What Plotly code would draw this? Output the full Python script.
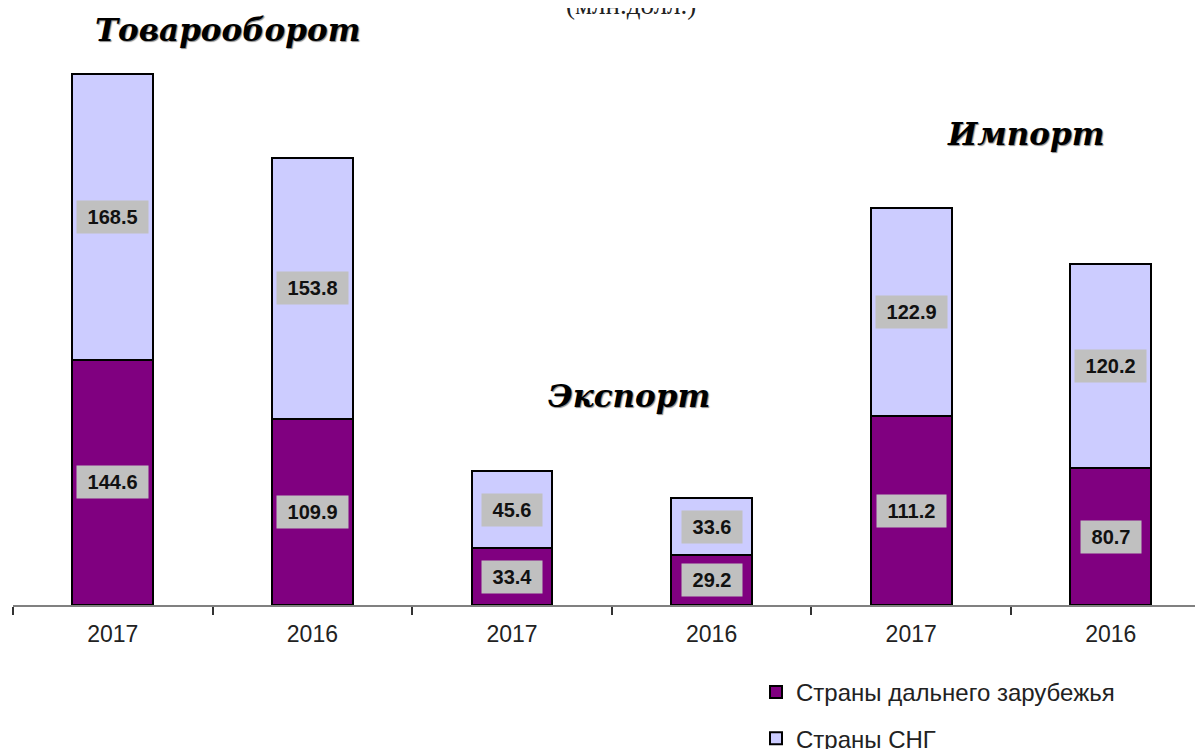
import plotly.graph_objects as go

tick_labels = ["2017", "2016", "2017", "2016", "2017", "2016"]
far_abroad = [144.6, 109.9, 33.4, 29.2, 111.2, 80.7]
cis = [168.5, 153.8, 45.6, 33.6, 122.9, 120.2]
series_names = ["Страны дальнего зарубежья", "Страны СНГ"]
group_titles = ["Товарооборот", "Экспорт", "Импорт"]
unit_text = "(млн.долл.)"

positions = list(range(len(tick_labels)))
boundaries = [p - 0.5 for p in positions] + [positions[-1] + 0.5]

OFF = 8  # page body margin in the browser
W, H = 1203, 757
ML, MR = 13 - OFF, 0
MT = 62 - OFF
MB = H - (605 - OFF)
PW = W - ML - MR
PH = H - MT - MB
CAT = 199.6
UNIT = 1.696


def px_x(px):
    return (px - OFF - ML) / PW


def px_y(py):
    return (H - MB - (py - OFF)) / PH


fig = go.Figure()
fig.add_trace(go.Bar(
    x=positions, y=far_abroad, name=series_names[0], legendgroup="a",
    marker=dict(color="#800080", line=dict(color="#000000", width=2)),
    width=0.405,
))
fig.add_trace(go.Bar(
    x=positions, y=cis, name=series_names[1], legendgroup="b",
    marker=dict(color="#CCCCFF", line=dict(color="#000000", width=2)),
    width=0.405,
))

annotations = []
for i, p in enumerate(positions):
    for val, base in ((far_abroad[i], 0), (cis[i], far_abroad[i])):
        annotations.append(dict(
            x=p, y=base + val / 2, xref="x", yref="y",
            text=f" {val:.1f} ", showarrow=False,
            bgcolor="#C0C0C0", borderpad=5,
            font=dict(family="Arial, Liberation Sans", size=20, color="#111111", weight="bold"),
        ))

title_font = dict(family="DejaVu Serif", size=31, color="#000000", style="italic", weight="bold",
                  shadow="1px 1px 1px #888888")
for txt, (px, py) in zip(group_titles, [(227, 30), (629, 396), (1025, 134)]):
    annotations.append(dict(
        x=px_x(px), y=px_y(py), xref="paper", yref="paper", text=txt,
        showarrow=False, xanchor="center", yanchor="middle", font=title_font,
    ))
annotations.append(dict(
    x=px_x(631), y=px_y(5), xref="paper", yref="paper", text=unit_text,
    showarrow=False, xanchor="center", yanchor="middle",
    font=dict(family="Liberation Serif, Times New Roman", size=27, color="#222222"),
))

fig.update_layout(
    width=W, height=H,
    margin=dict(l=ML, r=MR, t=MT, b=MB, autoexpand=False),
    barmode="stack",
    plot_bgcolor="white", paper_bgcolor="white",
    showlegend=True,
    legend=dict(
        x=px_x(756), y=px_y(670), xanchor="left", yanchor="top",
        traceorder="grouped", tracegroupgap=12,
        font=dict(family="Arial, Liberation Sans", size=24, color="#222222"),
        bgcolor="rgba(0,0,0,0)",
    ),
    xaxis=dict(
        range=[-0.5, -0.5 + PW / CAT],
        tickmode="array", tickvals=positions, ticktext=tick_labels,
        ticks="outside", ticklen=7, tickcolor="rgba(0,0,0,0)",
        ticklabelstandoff=0,
        minor=dict(tickmode="array", tickvals=boundaries, ticks="outside", ticklen=8,
                   tickcolor="#333333", tickwidth=2, showgrid=False),
        showline=True, linecolor="#808080", linewidth=2,
        tickfont=dict(family="Arial, Liberation Sans", size=23, color="#222222"),
        showgrid=False, zeroline=False, fixedrange=True, automargin=False,
    ),
    yaxis=dict(
        range=[0, PH / UNIT], visible=False, showgrid=False, zeroline=False,
    ),
    annotations=annotations,
)

fig.write_html("out.html")
